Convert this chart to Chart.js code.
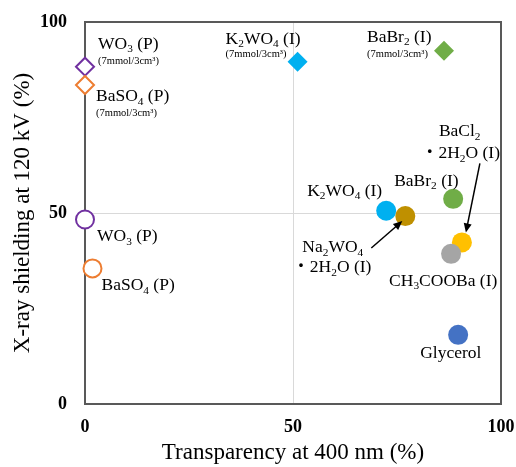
<!DOCTYPE html>
<html><head><meta charset="utf-8">
<script src="https://cdn.jsdelivr.net/npm/chart.js@4"></script>
<style>html,body{margin:0;padding:0;background:#fff}#wrap{width:516px;height:467px}</style>
</head><body><div id="wrap"><canvas id="c" width="516" height="467"></canvas></div>
<script>
// ---- data ----
const materials = ['WO_3 (P)', 'BaSO_4 (P)', 'K_2WO_4 (I)', 'BaBr_2 (I)', 'WO_3 (P)', 'BaSO_4 (P)',
  'K_2WO_4 (I)', 'Na_2WO_4|・2H_2O (I)', 'BaBr_2 (I)', 'BaCl_2|・2H_2O (I)', 'CH_3COOBa (I)', 'Glycerol'];
const notes = ['(7mmol/3cm³)', '(7mmol/3cm³)', '(7mmol/3cm³)', '(7mmol/3cm³)', '', '', '', '', '', '', '', ''];
const transparency = [0, 0, 51.1, 86.3, 0, 1.8, 72.4, 77.0, 88.5, 90.6, 88.0, 89.7];
const shielding = [88.3, 83.5, 89.6, 92.5, 48.3, 35.5, 50.6, 49.2, 53.7, 42.3, 39.3, 18.1];
const xTicks = [0, 50, 100];
const yTicks = [0, 50, 100];
const xTitle = 'Transparency at 400 nm (%)';
const yTitle = 'X-ray shielding at 120 kV (%)';

// ---- styles ----
const markerShape = ['rectRot', 'rectRot', 'rectRot', 'rectRot', 'circle', 'circle', 'circle', 'circle', 'circle', 'circle', 'circle', 'circle'];
const markerColor = ['#7030A0', '#ED7D31', '#00B0F0', '#70AD47', '#7030A0', '#ED7D31', '#00B0F0', '#BF9000', '#70AD47', '#FFC000', '#A5A5A5', '#4472C4'];
const markerOpen = [true, true, false, false, true, true, false, false, false, false, false, false];

// label layout: pixel offsets from the marker [dx, dy] per line, note offset, arrows
const labelLayout = [
  {lines: [[13, -18]], note: [13, -3]},
  {lines: [[11, 16]], note: [11, 31]},
  {lines: [[-72, -18]], note: [-72, -5]},
  {lines: [[-77, -9]], note: [-77, 6]},
  {lines: [[12, 22]]},
  {lines: [[9, 22]]},
  {lines: [[-79, -15]]},
  {lines: [[-103, 36], [-113, 56]], arrow: [[-34, 32], [-3, 5]]},
  {lines: [[-59, -13]]},
  {lines: [[-23, -106], [-41, -84]], arrow: [[18, -79], [4, -10]]},
  {lines: [[-62, 32]]},
  {lines: [[-38, 23]]}
];

const SERIF = "'Liberation Serif', 'Times New Roman', 'Noto Sans CJK JP', serif";
const LABEL_SIZE = 17.5;

function drawRich(ctx, str, x, y, size) {
  let i = 0;
  ctx.textBaseline = 'alphabetic';
  ctx.textAlign = 'left';
  let buf = '';
  const flush = () => {
    if (!buf) return;
    ctx.font = size + 'px ' + SERIF;
    ctx.fillText(buf, x, y);
    x += ctx.measureText(buf).width;
    buf = '';
  };
  while (i < str.length) {
    const ch = str[i];
    if (ch === '_' && i + 1 < str.length) {
      flush();
      const s = str[i + 1];
      const ss = size * 0.65;
      ctx.font = ss + 'px ' + SERIF;
      ctx.fillText(s, x, y + size * 0.2);
      x += ctx.measureText(s).width;
      i += 2;
    } else { buf += ch; i++; }
  }
  flush();
}

function drawArrow(ctx, x1, y1, x2, y2) {
  const a = Math.atan2(y2 - y1, x2 - x1);
  const hl = 9, hw = 4;
  ctx.strokeStyle = '#000';
  ctx.fillStyle = '#000';
  ctx.lineWidth = 1.5;
  ctx.beginPath();
  ctx.moveTo(x1, y1);
  ctx.lineTo(x2 - Math.cos(a) * hl * 0.8, y2 - Math.sin(a) * hl * 0.8);
  ctx.stroke();
  ctx.beginPath();
  ctx.moveTo(x2, y2);
  ctx.lineTo(x2 - Math.cos(a) * hl + Math.sin(a) * hw, y2 - Math.sin(a) * hl - Math.cos(a) * hw);
  ctx.lineTo(x2 - Math.cos(a) * hl - Math.sin(a) * hw, y2 - Math.sin(a) * hl + Math.cos(a) * hw);
  ctx.closePath();
  ctx.fill();
}

const framePlugin = {
  id: 'frame',
  beforeDatasetsDraw(chart) {
    const {ctx, chartArea: a} = chart;
    ctx.save();
    ctx.strokeStyle = '#595959';
    ctx.lineWidth = 2;
    ctx.strokeRect(a.left, a.top, a.right - a.left, a.bottom - a.top);
    ctx.restore();
  }
};

const labelPlugin = {
  id: 'labels',
  afterDatasetsDraw(chart) {
    const {ctx} = chart;
    const xs = chart.scales.x, ys = chart.scales.y;
    ctx.save();
    ctx.fillStyle = '#000';
    materials.forEach((m, i) => {
      const px = xs.getPixelForValue(transparency[i]);
      const py = ys.getPixelForValue(shielding[i]);
      const L = labelLayout[i];
      m.split('|').forEach((line, k) => {
        const [dx, dy] = L.lines[k];
        ctx.fillStyle = '#000';
        drawRich(ctx, line, px + dx, py + dy, LABEL_SIZE);
      });
      if (notes[i] && L.note) {
        ctx.fillStyle = '#000';
        ctx.font = '10.5px ' + SERIF;
        ctx.textBaseline = 'alphabetic';
        ctx.fillText(notes[i], px + L.note[0], py + L.note[1]);
      }
      if (L.arrow) {
        drawArrow(ctx, px + L.arrow[0][0], py + L.arrow[0][1], px + L.arrow[1][0], py + L.arrow[1][1]);
      }
    });
    ctx.restore();
  }
};

const tickFont = {family: SERIF, size: 18, weight: 'bold'};
const titleFont = {family: SERIF, size: 23};
const gridColor = ctx => (ctx.tick && ctx.tick.value === 50) ? '#d9d9d9' : 'rgba(0,0,0,0)';
const noPad = s => { s.paddingLeft = 0; s.paddingRight = 0; s.paddingTop = 0; s.paddingBottom = 0; };

new Chart(document.getElementById('c'), {
  type: 'scatter',
  data: {
    datasets: [{
      data: transparency.map((x, i) => ({x, y: shielding[i]})),
      pointStyle: markerShape,
      pointRadius: markerShape.map((s, i) => markerOpen[i] ? 9 : 10),
      pointHoverRadius: markerShape.map((s, i) => markerOpen[i] ? 9 : 10),
      pointBackgroundColor: markerColor.map((c, i) => markerOpen[i] ? '#ffffff' : c),
      pointBorderColor: markerColor,
      pointBorderWidth: markerOpen.map(o => o ? 2 : 0),
      clip: false
    }]
  },
  options: {
    responsive: false,
    animation: false,
    devicePixelRatio: 1,
    layout: {padding: {top: 22, right: 15, left: 0, bottom: 0}},
    plugins: {legend: {display: false}, tooltip: {enabled: false}},
    scales: {
      x: {
        type: 'linear', min: 0, max: 100,
        afterBuildTicks: s => { s.ticks = xTicks.map(v => ({value: v})); },
        afterFit: s => { s.height = 63; noPad(s); },
        ticks: {font: tickFont, color: '#000', padding: 13, maxRotation: 0},
        grid: {color: gridColor, drawTicks: false, lineWidth: 1},
        border: {color: '#404040', width: 2},
        title: {display: true, text: xTitle, font: titleFont, color: '#000', padding: {top: 0, bottom: 0}}
      },
      y: {
        type: 'linear', min: 0, max: 100,
        afterBuildTicks: s => { s.ticks = yTicks.map(v => ({value: v})); },
        afterFit: s => { s.width = 85; noPad(s); },
        ticks: {font: tickFont, color: '#000', padding: 18},
        grid: {color: gridColor, drawTicks: false, lineWidth: 1},
        border: {color: '#404040', width: 2},
        title: {display: true, text: yTitle, font: titleFont, color: '#000', padding: {top: 9, bottom: 0}}
      }
    }
  },
  plugins: [framePlugin, labelPlugin]
});
</script>
</body></html>
